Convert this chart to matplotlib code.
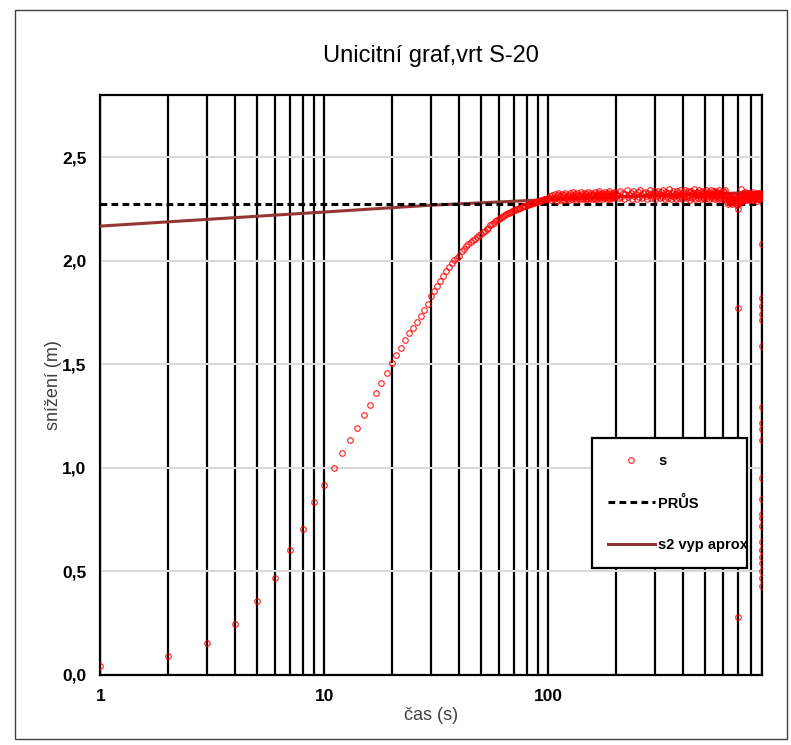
import numpy as np
import matplotlib
matplotlib.use("Agg")
import matplotlib.pyplot as plt
from matplotlib.ticker import LogLocator, FixedLocator, FuncFormatter, NullFormatter
from matplotlib.patches import Rectangle

plt.rcParams['font.family'] = ['Liberation Sans', 'DejaVu Sans']

# measured drawdown s (m), time (s)
t_rise = np.arange(1, 101)
s_rise = [0.045, 0.09, 0.155, 0.245, 0.355, 0.47, 0.605, 0.705, 0.835, 0.915,
          1.0, 1.07, 1.135, 1.19, 1.255, 1.305, 1.36, 1.41, 1.46, 1.505,
          1.545, 1.58, 1.615, 1.65, 1.675, 1.705, 1.735, 1.76, 1.79, 1.83,
          1.855, 1.88, 1.9, 1.925, 1.95, 1.97, 1.99, 2.005, 2.015, 2.025,
          2.045, 2.055, 2.07, 2.08, 2.09, 2.1, 2.105, 2.115, 2.125, 2.13,
          2.14, 2.145, 2.155, 2.16, 2.17, 2.175, 2.18, 2.19, 2.195, 2.2,
          2.205, 2.21, 2.215, 2.22, 2.225, 2.228, 2.232, 2.236, 2.24, 2.243,
          2.245, 2.248, 2.25, 2.253, 2.255, 2.258, 2.262, 2.265, 2.266, 2.268,
          2.27, 2.272, 2.274, 2.276, 2.278, 2.28, 2.282, 2.284, 2.285, 2.287,
          2.29, 2.29, 2.292, 2.294, 2.295, 2.297, 2.296, 2.298, 2.3, 2.302]

t_plat1 = np.arange(101, 201, 1)
s_plat1 = [2.302, 2.314, 2.291, 2.319, 2.305, 2.296, 2.321, 2.309, 2.288, 2.316,
           2.326, 2.298, 2.311, 2.294, 2.323, 2.307, 2.315, 2.292, 2.328, 2.304,
           2.299, 2.318, 2.31, 2.293, 2.325, 2.306, 2.317, 2.297, 2.33, 2.312,
           2.301, 2.322, 2.295, 2.314, 2.327, 2.303, 2.319, 2.296, 2.311, 2.332,
           2.305, 2.324, 2.298, 2.316, 2.308, 2.329, 2.3, 2.321, 2.313, 2.297,
           2.334, 2.309, 2.318, 2.302, 2.326, 2.311, 2.299, 2.323, 2.315, 2.305,
           2.331, 2.3, 2.319, 2.312, 2.296, 2.327, 2.308, 2.317, 2.335, 2.304,
           2.322, 2.31, 2.298, 2.328, 2.314, 2.306, 2.324, 2.301, 2.318, 2.333,
           2.309, 2.32, 2.297, 2.326, 2.313, 2.304, 2.336, 2.316, 2.3, 2.323,
           2.311, 2.329, 2.306, 2.319, 2.302, 2.325, 2.314, 2.332, 2.308, 2.321]

t_plat2 = np.arange(203, 891, 3)
s_plat2 = [2.318, 2.301, 2.335, 2.309, 2.326, 2.297, 2.322, 2.339, 2.306, 2.316,
           2.329, 2.3, 2.337, 2.313, 2.321, 2.296, 2.331, 2.308, 2.341, 2.317,
           2.303, 2.325, 2.334, 2.311, 2.298, 2.328, 2.319, 2.343, 2.305, 2.322,
           2.314, 2.336, 2.299, 2.327, 2.31, 2.338, 2.32, 2.302, 2.331, 2.315,
           2.307, 2.34, 2.323, 2.296, 2.333, 2.312, 2.326, 2.304, 2.344, 2.318,
           2.3, 2.329, 2.314, 2.337, 2.308, 2.321, 2.298, 2.335, 2.317, 2.327,
           2.303, 2.339, 2.311, 2.324, 2.297, 2.332, 2.319, 2.306, 2.342, 2.313,
           2.325, 2.301, 2.336, 2.316, 2.309, 2.33, 2.294, 2.338, 2.32, 2.305,
           2.328, 2.312, 2.345, 2.299, 2.323, 2.317, 2.334, 2.302, 2.326, 2.31,
           2.341, 2.315, 2.296, 2.331, 2.321, 2.307, 2.337, 2.313, 2.3, 2.327,
           2.318, 2.339, 2.304, 2.324, 2.311, 2.333, 2.298, 2.329, 2.316, 2.343,
           2.306, 2.322, 2.312, 2.336, 2.301, 2.325, 2.319, 2.297, 2.338, 2.314,
           2.328, 2.305, 2.332, 2.31, 2.321, 2.34, 2.3, 2.326, 2.315, 2.334,
           2.303, 2.323, 2.311, 2.337, 2.296, 2.33, 2.318, 2.307, 2.339, 2.313,
           # 600-700 s: band sags a little
           2.3, 2.283, 2.312, 2.291, 2.276, 2.305, 2.288, 2.318, 2.279, 2.297,
           2.309, 2.285, 2.273, 2.302, 2.293, 2.315, 2.281, 2.299, 2.287, 2.31,
           2.277, 2.295, 2.306, 2.284, 2.3, 2.271, 2.313, 2.29, 2.282, 2.303,
           2.294, 2.278, 2.308, 2.286, 2.345, 2.298,
           # 700-890 s
           2.315, 2.296, 2.327, 2.305, 2.289, 2.321, 2.31, 2.299, 2.332, 2.302,
           2.318, 2.293, 2.325, 2.308, 2.314, 2.297, 2.329, 2.304, 2.32, 2.291,
           2.317, 2.309, 2.326, 2.298, 2.312, 2.323, 2.295, 2.307, 2.33, 2.301,
           2.319, 2.294, 2.311, 2.324, 2.303, 2.316, 2.298, 2.328, 2.306, 2.313,
           2.29, 2.322, 2.309, 2.3, 2.326, 2.311, 2.296, 2.319, 2.304, 2.315,
           2.327, 2.299, 2.312, 2.306, 2.321, 2.293, 2.317, 2.308, 2.302, 2.324,
           2.31, 2.297, 2.314]

# stray points / recovery at the end
t_end = [700, 700, 700, 895, 895, 895, 895, 895, 896, 895, 895, 895, 895,
         895, 896, 895, 895, 896, 895, 895, 896, 895, 896, 895, 896]
s_end = [2.25, 1.77, 0.28, 2.08, 1.818, 1.78, 1.742, 1.713, 1.589, 1.295,
         1.218, 1.186, 1.134, 0.952, 0.849, 0.775, 0.76, 0.72, 0.643, 0.603,
         0.571, 0.539, 0.503, 0.467, 0.43]

n2 = min(len(t_plat2), len(s_plat2))
t_all = np.concatenate([t_rise, t_plat1, t_plat2[:n2], t_end])
s_all = np.concatenate([s_rise, s_plat1, s_plat2[:n2], s_end])

# PRŮS (mean) and fitted approximation
prus_t = [1, 900]
prus_s = [2.275, 2.275]
s2_t = [1, 10, 30, 100, 300, 900]
s2_s = [2.167, 2.235, 2.268, 2.295, 2.315, 2.33]

fig = plt.figure(figsize=(7.91, 7.45), dpi=100)
ax = fig.add_axes([0.1268, 0.094, 0.8366, 0.7785])

# outer chart frame
fig.patches.append(Rectangle((0.019, 0.008), 0.976, 0.978, transform=fig.transFigure,
                             fill=False, edgecolor='#404040', linewidth=1.0))

ax.plot(s2_t, s2_s, color='#943634', lw=2.2, label='s2 vyp aprox', zorder=3)
ax.plot(prus_t, prus_s, color='black', lw=2.2, ls=(0, (2.2, 1.4)), label='PRŮS', zorder=4)
ax.plot(t_all, s_all, ls='none', marker='o', ms=4.0, mfc='none', mec='red',
        mew=0.9, alpha=0.8, label='s', zorder=5)

ax.set_xscale('log')
ax.set_xlim(1, 900)
ax.set_ylim(0, 2.8)

ax.xaxis.set_major_locator(FixedLocator([1, 10, 100]))
ax.xaxis.set_minor_locator(LogLocator(base=10, subs=np.arange(2, 10)))
ax.xaxis.set_minor_formatter(NullFormatter())
ax.xaxis.set_major_formatter(FuncFormatter(lambda v, p: f'{v:g}'))
ax.yaxis.set_major_locator(FixedLocator([0, 0.5, 1.0, 1.5, 2.0, 2.5]))
ax.yaxis.set_major_formatter(FuncFormatter(lambda v, p: f'{v:.1f}'.replace('.', ',')))

ax.xaxis.grid(True, which='both', color='black', lw=1.6)
ax.yaxis.grid(True, which='major', color='#d9d9d9', lw=1.5)
ax.set_axisbelow(True)
ax.tick_params(axis='both', which='both', length=0, labelsize=12.5, pad=10)
for lab in ax.get_xticklabels() + ax.get_yticklabels():
    lab.set_fontweight('bold')

for sp in ax.spines.values():
    sp.set_color('black')
    sp.set_linewidth(1.6)

ax.set_title('Unicitní graf,vrt S-20', fontsize=17, pad=24)
ax.set_xlabel('čas (s)', fontsize=13, color='#404040', labelpad=2)
ax.set_ylabel('snížení (m)', fontsize=13, color='#404040', labelpad=0)

handles, labels = ax.get_legend_handles_labels()
leg = ax.legend(handles[::-1], labels[::-1], loc='lower left',
                bbox_to_anchor=(0.743, 0.184, 0.234, 0.228), mode='expand',
                borderaxespad=0, fancybox=False, framealpha=1, edgecolor='black',
                prop={'weight': 'bold', 'size': 10.5}, labelspacing=1.9,
                handlelength=3.2, handletextpad=0.25, borderpad=1.1)
leg.get_frame().set_linewidth(1.6)

fig.savefig('out.png', dpi=100)
